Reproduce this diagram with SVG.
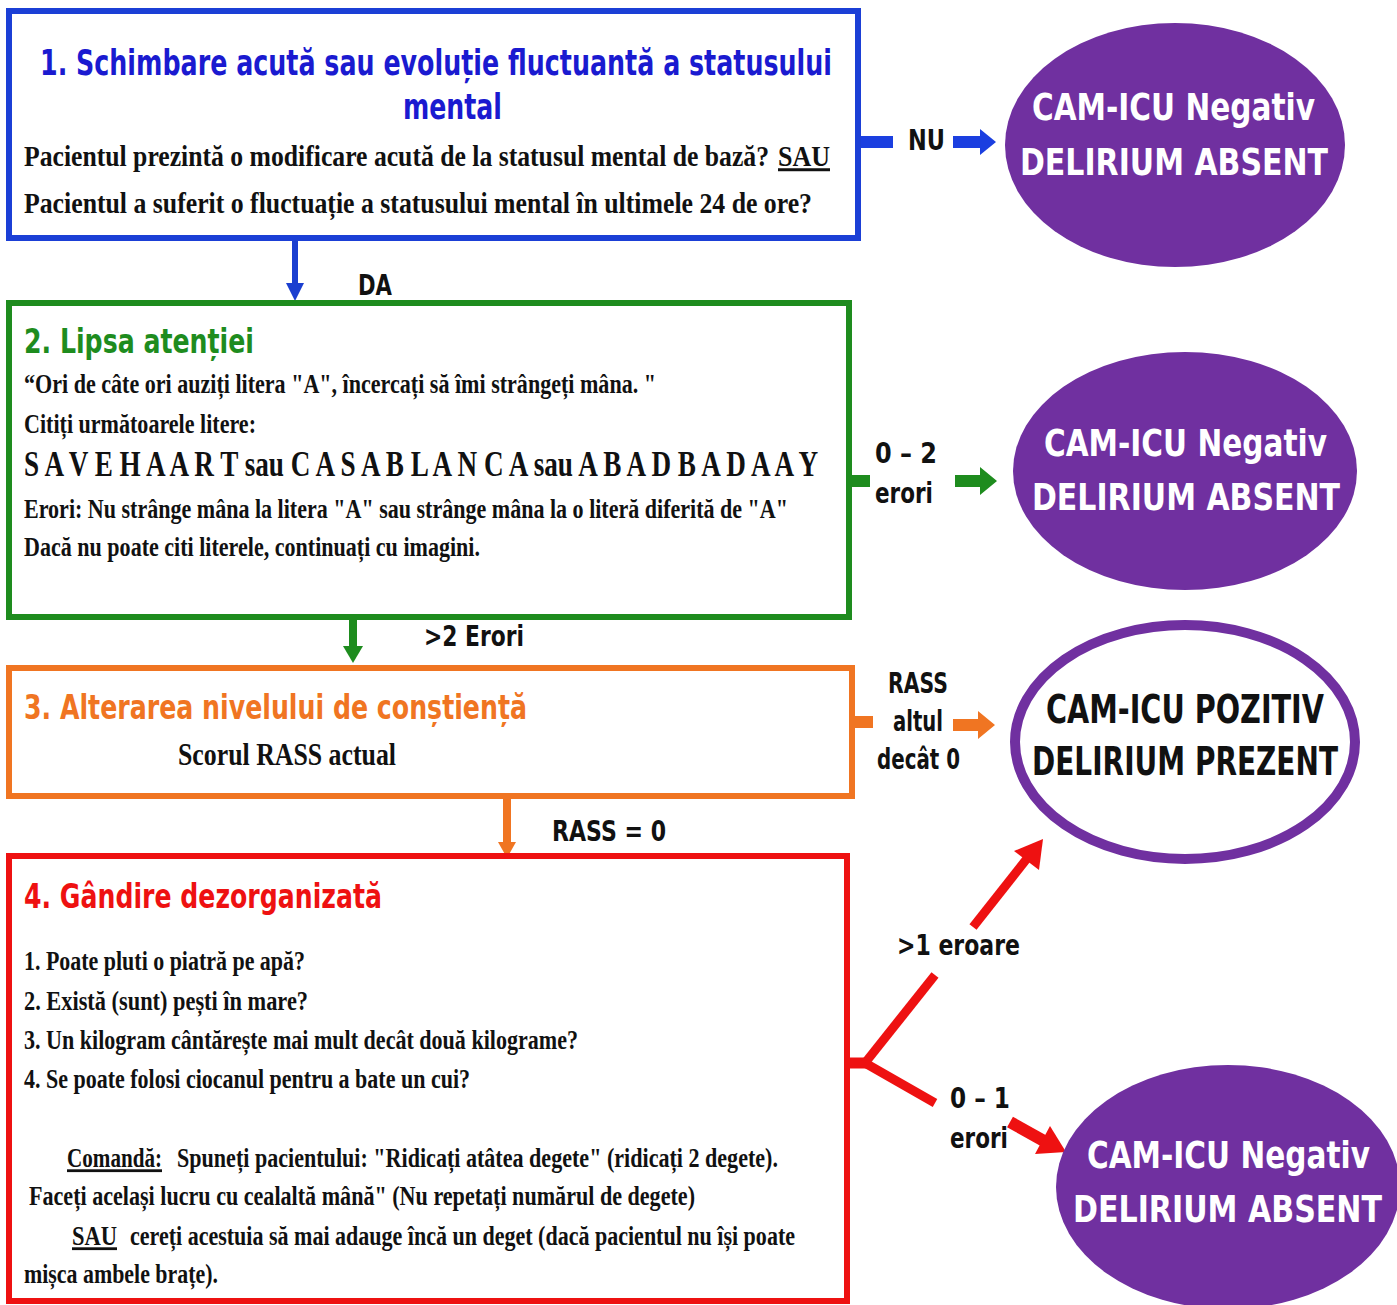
<svg xmlns="http://www.w3.org/2000/svg" width="1397" height="1305" viewBox="0 0 1397 1305">
<style>
.box{fill:#fff;stroke-width:6}
.ttl{font-family:"DejaVu Sans","Liberation Sans",sans-serif;font-weight:bold}
.bd{font-family:"Liberation Serif",serif;font-weight:bold;fill:#111}
.lbl{font-family:"DejaVu Sans","Liberation Sans",sans-serif;font-weight:bold;fill:#111;font-size:21px}
.ell{font-family:"DejaVu Sans","Liberation Sans",sans-serif;font-weight:bold;font-size:29px}
.u{text-decoration:underline}
</style>
<rect width="1397" height="1305" fill="#fff"/>

<g id="connectors">
  <rect x="858" y="136" width="35" height="12" fill="#1b3fe0"/>
  <polygon points="953,136 980,136 980,129 996,142 980,155 980,148 953,148" fill="#1b3fe0"/>
  <rect x="292" y="241" width="6" height="44" fill="#1b3fd0"/>
  <polygon points="286,283 304,283 295,301" fill="#1b3fd0"/>
  <rect x="849" y="475" width="21" height="12" fill="#1e8c1e"/>
  <polygon points="955,475 980,475 980,467 997,481 980,495 980,487 955,487" fill="#1e8c1e"/>
  <rect x="349" y="620" width="8" height="28" fill="#1e8c1e"/>
  <polygon points="343,646 363,646 353,663" fill="#1e8c1e"/>
  <rect x="852" y="716" width="21" height="12" fill="#f07522"/>
  <polygon points="953,719 978,719 978,711 995,725 978,739 978,731 953,731" fill="#f07522"/>
  <rect x="503" y="799" width="8" height="44" fill="#f07522"/>
  <polygon points="498,842 516,842 507,858" fill="#f07522"/>
  <g stroke="#ee1111" stroke-width="9" fill="none" stroke-linecap="butt">
    <line x1="847" y1="1063" x2="868" y2="1063" stroke-width="11"/>
    <line x1="865" y1="1063" x2="935" y2="975"/>
    <line x1="973" y1="927" x2="1029" y2="856"/>
    <line x1="865" y1="1063" x2="935" y2="1103"/>
    <line x1="1010" y1="1122" x2="1044" y2="1141" stroke-width="12"/>
  </g>
  <polygon points="1043,839 1039,870 1014,851" fill="#ee1111"/>
  <polygon points="1066,1152 1035,1154 1050,1126" fill="#ee1111"/>
  <text class="lbl" transform="translate(908 150) scale(1 1.38)" textLength="37" lengthAdjust="spacingAndGlyphs">NU</text>
  <text class="lbl" transform="translate(358 295) scale(1 1.38)" textLength="34" lengthAdjust="spacingAndGlyphs">DA</text>
  <text class="lbl" transform="translate(875 463) scale(1 1.38)" textLength="62" lengthAdjust="spacingAndGlyphs">0 – 2</text>
  <text class="lbl" transform="translate(875 503) scale(1 1.38)" textLength="58" lengthAdjust="spacingAndGlyphs">erori</text>
  <text class="lbl" transform="translate(424 646) scale(1 1.38)" textLength="100" lengthAdjust="spacingAndGlyphs">&gt;2 Erori</text>
  <text class="lbl" transform="translate(888 693) scale(1 1.38)" textLength="60" lengthAdjust="spacingAndGlyphs">RASS</text>
  <text class="lbl" transform="translate(893 731) scale(1 1.38)" textLength="50" lengthAdjust="spacingAndGlyphs">altul</text>
  <text class="lbl" transform="translate(877 769) scale(1 1.38)" textLength="83" lengthAdjust="spacingAndGlyphs">decât 0</text>
  <text class="lbl" transform="translate(552 841) scale(1 1.38)" textLength="114" lengthAdjust="spacingAndGlyphs">RASS = 0</text>
  <text class="lbl" transform="translate(897 955) scale(1 1.38)" textLength="123" lengthAdjust="spacingAndGlyphs">&gt;1 eroare</text>
  <text class="lbl" transform="translate(950 1108) scale(1 1.38)" textLength="60" lengthAdjust="spacingAndGlyphs">0 – 1</text>
  <text class="lbl" transform="translate(950 1148) scale(1 1.38)" textLength="58" lengthAdjust="spacingAndGlyphs">erori</text>
</g>

<g id="box1">
  <rect class="box" x="9" y="11" width="849" height="227" stroke="#1b3fd6"/>
  <text class="ttl" transform="translate(40 75) scale(1 1.52)" font-size="23" fill="#1a1ad0" textLength="792" lengthAdjust="spacingAndGlyphs">1. Schimbare acută sau evoluție fluctuantă a statusului</text>
  <text class="ttl" transform="translate(403 119) scale(1 1.52)" font-size="23" fill="#1a1ad0" textLength="99" lengthAdjust="spacingAndGlyphs">mental</text>
  <text class="bd" transform="translate(24 166) scale(1 1.3)" font-size="23" textLength="745" lengthAdjust="spacingAndGlyphs">Pacientul prezintă o modificare acută de la statusul mental de bază?</text>
  <text class="bd u" transform="translate(778 166) scale(1 1.3)" font-size="23" textLength="52" lengthAdjust="spacingAndGlyphs">SAU</text>
  <text class="bd" transform="translate(24 213) scale(1 1.3)" font-size="23" textLength="788" lengthAdjust="spacingAndGlyphs">Pacientul a suferit o fluctuație a statusului mental în ultimele 24 de ore?</text>
</g>

<g id="ellipse1">
  <ellipse cx="1175" cy="145" rx="170" ry="122" fill="#7030a0"/>
  <text class="ell" transform="translate(1032 120) scale(1 1.3)" fill="#fff" textLength="283" lengthAdjust="spacingAndGlyphs">CAM-ICU Negativ</text>
  <text class="ell" transform="translate(1020 175) scale(1 1.3)" fill="#fff" textLength="308" lengthAdjust="spacingAndGlyphs">DELIRIUM ABSENT</text>
</g>

<g id="box2">
  <rect class="box" x="9" y="303" width="840" height="314" stroke="#1e8c1e"/>
  <text class="ttl" transform="translate(24 353) scale(1 1.36)" font-size="25" fill="#1e8c1e" textLength="230" lengthAdjust="spacingAndGlyphs">2. Lipsa atenției</text>
  <text class="bd" transform="translate(24 393) scale(1 1.42)" font-size="19.5" textLength="632" lengthAdjust="spacingAndGlyphs">“Ori de câte ori auziți litera "A", încercați să îmi strângeți mâna. "</text>
  <text class="bd" transform="translate(24 433) scale(1 1.42)" font-size="19.5" textLength="232" lengthAdjust="spacingAndGlyphs">Citiți următoarele litere:</text>
  <text class="bd" transform="translate(24 476) scale(1 1.4)" font-size="25" textLength="794" lengthAdjust="spacingAndGlyphs">S A V E H A A R T sau C A S A B L A N C A sau A B A D B A D A A Y</text>
  <text class="bd" transform="translate(24 518) scale(1 1.42)" font-size="19.5" textLength="764" lengthAdjust="spacingAndGlyphs">Erori: Nu strânge mâna la litera "A" sau strânge mâna la o literă diferită de "A"</text>
  <text class="bd" transform="translate(24 556) scale(1 1.42)" font-size="19.5" textLength="456" lengthAdjust="spacingAndGlyphs">Dacă nu poate citi literele, continuați cu imagini.</text>
</g>

<g id="ellipse2">
  <ellipse cx="1185" cy="471" rx="172" ry="119" fill="#7030a0"/>
  <text class="ell" transform="translate(1044 456) scale(1 1.3)" fill="#fff" textLength="283" lengthAdjust="spacingAndGlyphs">CAM-ICU Negativ</text>
  <text class="ell" transform="translate(1032 510) scale(1 1.3)" fill="#fff" textLength="308" lengthAdjust="spacingAndGlyphs">DELIRIUM ABSENT</text>
</g>

<g id="box3">
  <rect class="box" x="9" y="668" width="843" height="128" stroke="#f07522"/>
  <text class="ttl" transform="translate(24 719) scale(1 1.45)" font-size="23" fill="#f07522" textLength="503" lengthAdjust="spacingAndGlyphs">3. Alterarea nivelului de conștiență</text>
  <text class="bd" transform="translate(178 765) scale(1 1.3)" font-size="24" textLength="218" lengthAdjust="spacingAndGlyphs">Scorul RASS actual</text>
</g>

<g id="ellipse3">
  <ellipse cx="1185" cy="742" rx="170" ry="117" fill="#fff" stroke="#7030a0" stroke-width="10"/>
  <text class="ell" transform="translate(1046 723) scale(1 1.35)" font-size="28" fill="#111" textLength="278" lengthAdjust="spacingAndGlyphs">CAM-ICU POZITIV</text>
  <text class="ell" transform="translate(1032 775) scale(1 1.35)" font-size="28" fill="#111" textLength="306" lengthAdjust="spacingAndGlyphs">DELIRIUM PREZENT</text>
</g>

<g id="box4">
  <rect class="box" x="9" y="856" width="838" height="445" stroke="#ee1111"/>
  <text class="ttl" transform="translate(24 908) scale(1 1.4)" font-size="24" fill="#ee1111" textLength="358" lengthAdjust="spacingAndGlyphs">4. Gândire dezorganizată</text>
  <text class="bd" transform="translate(24 970) scale(1 1.4)" font-size="20" textLength="281" lengthAdjust="spacingAndGlyphs">1. Poate pluti o piatră pe apă?</text>
  <text class="bd" transform="translate(24 1010) scale(1 1.4)" font-size="20" textLength="284" lengthAdjust="spacingAndGlyphs">2. Există (sunt)  pești în mare?</text>
  <text class="bd" transform="translate(24 1049) scale(1 1.4)" font-size="20" textLength="554" lengthAdjust="spacingAndGlyphs">3. Un kilogram cântărește mai mult decât două kilograme?</text>
  <text class="bd" transform="translate(24 1088) scale(1 1.4)" font-size="20" textLength="446" lengthAdjust="spacingAndGlyphs">4. Se poate folosi ciocanul pentru a bate un cui?</text>
  <text class="bd u" transform="translate(67 1167) scale(1 1.4)" font-size="20" textLength="95" lengthAdjust="spacingAndGlyphs">Comandă:</text>
  <text class="bd" transform="translate(177 1167) scale(1 1.4)" font-size="20" textLength="601" lengthAdjust="spacingAndGlyphs">Spuneți pacientului: "Ridicați atâtea degete" (ridicați 2 degete).</text>
  <text class="bd" transform="translate(29 1205) scale(1 1.4)" font-size="20" textLength="666" lengthAdjust="spacingAndGlyphs">Faceți același lucru cu cealaltă mână" (Nu repetați numărul de degete)</text>
  <text class="bd u" transform="translate(72 1245) scale(1 1.4)" font-size="20" textLength="45" lengthAdjust="spacingAndGlyphs">SAU</text>
  <text class="bd" transform="translate(130 1245) scale(1 1.4)" font-size="20" textLength="665" lengthAdjust="spacingAndGlyphs">cereți acestuia să mai adauge încă un deget (dacă pacientul nu își poate</text>
  <text class="bd" transform="translate(24 1283) scale(1 1.4)" font-size="20" textLength="194" lengthAdjust="spacingAndGlyphs">mișca ambele brațe).</text>
</g>

<g id="ellipse4">
  <ellipse cx="1228" cy="1187" rx="172" ry="122" fill="#7030a0"/>
  <text class="ell" transform="translate(1087 1168) scale(1 1.3)" fill="#fff" textLength="283" lengthAdjust="spacingAndGlyphs">CAM-ICU Negativ</text>
  <text class="ell" transform="translate(1073 1222) scale(1 1.3)" fill="#fff" textLength="309" lengthAdjust="spacingAndGlyphs">DELIRIUM ABSENT</text>
</g>
</svg>
